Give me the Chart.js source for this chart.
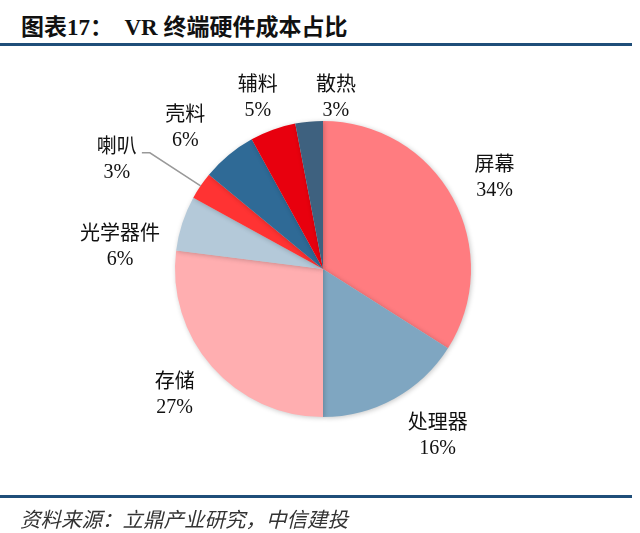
<!DOCTYPE html>
<html>
<head>
<meta charset="utf-8">
<script src="https://cdn.jsdelivr.net/npm/chart.js@4"></script>
<style>
  html, body { margin: 0; padding: 0; background: #fff; }
  #wrap { position: relative; width: 640px; height: 533px; overflow: hidden; }
  #title {
    position: absolute; left: 21px; top: 8px;
    font-family: "Liberation Serif", "Noto Sans CJK SC", serif;
    font-weight: bold; font-size: 23px; color: #111; white-space: pre;
  }
  .rule { position: absolute; left: 0; width: 632px; height: 3px; background: #1f4e79; }
  #source {
    position: absolute; left: 20px; top: 503px;
    font-family: "Noto Sans CJK SC", sans-serif; font-style: italic;
    font-size: 20.5px; color: #333;
  }
  canvas { position: absolute; left: 0; top: 0; }
</style>
</head>
<body>
<div id="wrap">
  <div id="title">图表17：  VR 终端硬件成本占比</div>
  <div class="rule" style="top:43px"></div>
  <canvas id="pie" width="640" height="533"></canvas>
  <div class="rule" style="top:495px"></div>
  <div id="source">资料来源：立鼎产业研究，中信建投</div>
</div>
<script>
// VR hardware cost share (%), clockwise from 12 o'clock
const parts = ["屏幕", "处理器", "存储", "光学器件", "喇叭", "壳料", "辅料", "散热"];
const shares = [34, 16, 27, 6, 3, 6, 5, 3];
const sliceColors = ["#ff7c80", "#7fa6c1", "#ffaeb0", "#b4c9d9", "#ff3333", "#2f6a96", "#e8000e", "#3e617f"];

// label nudges from the default spot (1.3 x radius on the slice mid angle)
const labelNudge = [[3, 1], [22, -2], [-4, -1], [-20, 37], [-47, -1], [-15, 7], [0, 10], [31, 20]];
const leaderFor = [false, false, false, false, true, false, false, false];

const pieLabels = {
  id: "pieLabels",
  afterDatasetsDraw(chart) {
    const ctx = chart.ctx;
    const arcs = chart.getDatasetMeta(0).data;
    ctx.save();
    ctx.font = '20px "Liberation Serif", "Noto Sans CJK SC", serif';
    ctx.fillStyle = "#111";
    ctx.textAlign = "center";
    ctx.textBaseline = "middle";
    arcs.forEach((arc, i) => {
      const p = arc.getProps(["x", "y", "startAngle", "endAngle", "outerRadius"], true);
      const mid = (p.startAngle + p.endAngle) / 2;
      const r = p.outerRadius * 1.3;
      const lx = p.x + Math.cos(mid) * r + labelNudge[i][0];
      const ly = p.y + Math.sin(mid) * r + labelNudge[i][1];
      ctx.fillText(parts[i], lx, ly - 12);
      ctx.fillText(shares[i] + "%", lx, ly + 13);
      if (leaderFor[i]) {
        const w = ctx.measureText(parts[i]).width;
        const ex = p.x + Math.cos(mid) * p.outerRadius;
        const ey = p.y + Math.sin(mid) * p.outerRadius;
        ctx.strokeStyle = "#999";
        ctx.lineWidth = 1.5;
        ctx.beginPath();
        ctx.moveTo(lx + w / 2 + 5, ly - 7);
        ctx.lineTo(lx + w / 2 + 13, ly - 7);
        ctx.lineTo(ex, ey);
        ctx.stroke();
      }
    });
    ctx.restore();
  },
};

const pieShadow = {
  id: "pieShadow",
  beforeDatasetsDraw(chart) {
    const ctx = chart.ctx;
    ctx.save();
    ctx.shadowColor = "rgba(0,0,0,0.22)";
    ctx.shadowBlur = 5;
    ctx.shadowOffsetX = 1;
    ctx.shadowOffsetY = 1;
  },
  afterDatasetsDraw(chart) {
    chart.ctx.restore();
  },
};

new Chart(document.getElementById("pie"), {
  type: "pie",
  data: {
    labels: parts,
    datasets: [
      {
        data: shares,
        backgroundColor: sliceColors,
        borderWidth: 0,
      },
    ],
  },
  options: {
    responsive: false,
    animation: false,
    layout: { padding: { left: 175, right: 169, top: 121, bottom: 116 } },
    plugins: {
      legend: { display: false },
      tooltip: { enabled: false },
    },
  },
  plugins: [pieShadow, pieLabels],
});
</script>
</body>
</html>
